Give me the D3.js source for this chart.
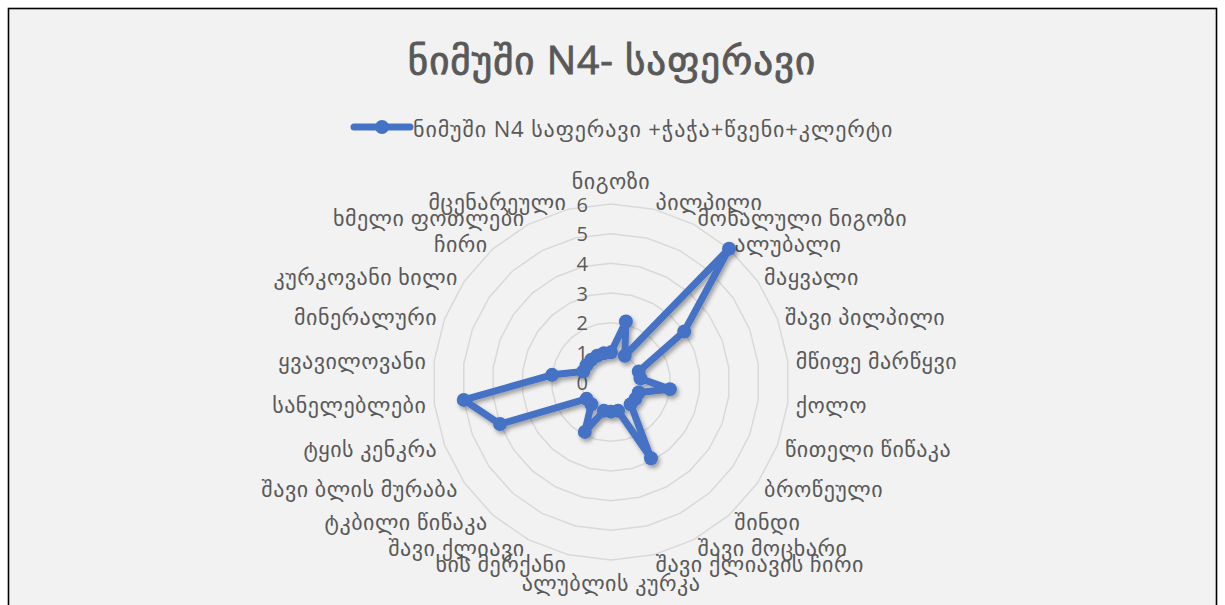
<!DOCTYPE html>
<html>
<head>
<meta charset="utf-8">
<script src="https://cdn.jsdelivr.net/npm/d3@7/dist/d3.min.js"></script>
<style>
  html, body { margin: 0; padding: 0; background: #ffffff; }
  svg { display: block; }
  text { font-family: "Open Sans", "DejaVu Sans", sans-serif; fill: #595959; }
</style>
</head>
<body>
<svg id="chart" width="1225" height="605"></svg>
<script>
// Aroma profile categories, clockwise from the top
const categories = [
  "ნიგოზი", "პილპილი", "მოხალული ნიგოზი", "ალუბალი", "მაყვალი",
  "შავი პილპილი", "მწიფე მარწყვი", "ქოლო", "წითელი წიწაკა", "ბროწეული",
  "შინდი", "შავი მოცხარი", "შავი ქლიავის ჩირი", "ალუბლის კურკა", "ხის მერქანი",
  "შავი ქლიავი", "ტკბილი წიწაკა", "შავი ბლის მურაბა", "ტყის კენკრა", "სანელებლები",
  "ყვავილოვანი", "მინერალური", "კურკოვანი ხილი", "ჩირი", "ხმელი ფოთლები",
  "მცენარეული"
];
const seriesName = "ნიმუში N4 საფერავი +ჭაჭა+წვენი+კლერტი";
const seriesValues = [
  1, 2.1, 1, 6, 3,
  1, 1, 2, 1, 1,
  1, 2.9, 1, 1, 1,
  1.9, 1, 1, 4, 5,
  2, 1, 1, 1, 1,
  1
];
const tickValues = [0, 1, 2, 3, 4, 5, 6];
const titleText = "ნიმუში N4- საფერავი";

const cx = 611, cy = 382;
const outerR = 178;
const labelR = 186;
const blue = "#4472C4";

const svg = d3.select("#chart");

// drop shadow used by the series line and markers
const defs = svg.append("defs");
const shadow = defs.append("filter").attr("id", "shadow")
  .attr("x", "-20%").attr("y", "-20%").attr("width", "140%").attr("height", "140%");
shadow.append("feDropShadow")
  .attr("dx", 2).attr("dy", 3).attr("stdDeviation", 2.2)
  .attr("flood-color", "#000").attr("flood-opacity", 0.35);

// chart area
svg.append("rect")
  .attr("x", 8.5).attr("y", 8.5).attr("width", 1208).attr("height", 610)
  .attr("fill", "#f2f2f2").attr("stroke", "#000").attr("stroke-width", 1.6);

// title
svg.append("text")
  .attr("x", 612).attr("y", 58)
  .attr("text-anchor", "middle").attr("dominant-baseline", "central")
  .style("font-size", "39px")
  .style("letter-spacing", "1px")
  .style("stroke", "#595959")
  .style("stroke-width", "0.9px")
  .text(titleText);

// legend
const legend = svg.append("g");
legend.append("line")
  .attr("x1", 354).attr("x2", 410).attr("y1", 127).attr("y2", 127)
  .attr("stroke", blue).attr("stroke-width", 7).attr("stroke-linecap", "round");
legend.append("circle")
  .attr("cx", 382).attr("cy", 127).attr("r", 7).attr("fill", blue);
legend.append("text")
  .attr("x", 413).attr("y", 128)
  .attr("dominant-baseline", "central")
  .style("font-size", "22px")
  .style("letter-spacing", "0.9px")
  .text(seriesName);

const n = categories.length;
const angle = d3.scaleLinear().domain([0, n]).range([0, 2 * Math.PI]);
const r = d3.scaleLinear().domain([0, d3.max(tickValues)]).range([0, outerR]);

const plot = svg.append("g").attr("transform", `translate(${cx},${cy})`);

// concentric polygon gridlines
const ringLine = d3.lineRadial()
  .angle((d, i) => angle(i))
  .radius(d => d)
  .curve(d3.curveLinearClosed);
plot.append("g").selectAll("path")
  .data(tickValues.filter(t => t > 0))
  .join("path")
  .attr("d", t => ringLine(categories.map(() => r(t))))
  .attr("fill", "none")
  .attr("stroke", "#d9d9d9")
  .attr("stroke-width", 1.5);

// value labels along the vertical axis
plot.append("g").selectAll("text")
  .data(tickValues)
  .join("text")
  .attr("x", -23)
  .attr("y", t => -r(t))
  .attr("text-anchor", "end")
  .attr("dominant-baseline", "central")
  .style("font-size", "20px")
  .text(t => t);

// category labels
plot.append("g").selectAll("text")
  .data(categories)
  .join("text")
  .each(function (d, i) {
    const a = angle(i);
    const s = Math.sin(a), c = Math.cos(a);
    let anchor = "middle", dy = 0;
    if (s > 0.01) anchor = "start";
    else if (s < -0.01) anchor = "end";
    else dy = c > 0 ? -16 : 14;
    d3.select(this)
      .attr("x", labelR * s)
      .attr("y", -labelR * c + dy)
      .attr("text-anchor", anchor)
      .attr("dominant-baseline", "central");
  })
  .style("font-size", "22px")
  .style("letter-spacing", "0.5px")
  .text(d => d);

// series
const series = plot.append("g").attr("filter", "url(#shadow)");
const valueLine = d3.lineRadial()
  .angle((d, i) => angle(i))
  .radius(d => r(d))
  .curve(d3.curveLinearClosed);
series.append("path")
  .attr("d", valueLine(seriesValues))
  .attr("fill", "none")
  .attr("stroke", blue)
  .attr("stroke-width", 7)
  .attr("stroke-linejoin", "round");
series.selectAll("circle")
  .data(seriesValues)
  .join("circle")
  .attr("cx", (d, i) => r(d) * Math.sin(angle(i)))
  .attr("cy", (d, i) => -r(d) * Math.cos(angle(i)))
  .attr("r", 7)
  .attr("fill", blue);
</script>
</body>
</html>
